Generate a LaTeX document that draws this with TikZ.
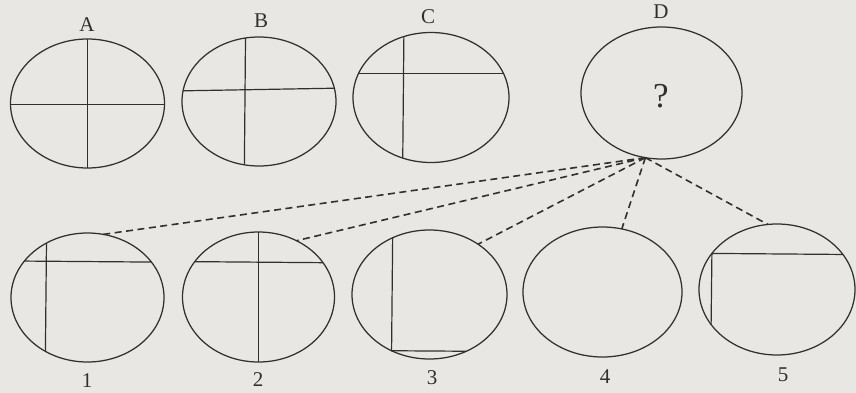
\documentclass[tikz,border=0pt]{standalone}
\usepackage{fontspec}
\setmainfont{Liberation Serif}
\usetikzlibrary{shapes.geometric}
\definecolor{paper}{RGB}{233,231,228}
\definecolor{ink}{RGB}{50,48,47}
\tikzset{
  oval/.style={ellipse, draw=ink, line width=1.25pt, inner sep=0pt, outer sep=0pt},
  chord/.style={draw=ink, line width=1.2pt},
  link/.style={draw=ink, line width=1.6pt, dash pattern=on 7pt off 4.5pt},
  lbl/.style={text=ink, font=\fontsize{21}{21}\selectfont, inner sep=0pt},
  qmark/.style={text=ink, font=\fontsize{35}{35}\selectfont, inner sep=0pt}
}
\begin{document}
\begin{tikzpicture}[x=1pt,y=-1pt]
\fill[paper] (0,0) rectangle (856,393);
\useasboundingbox (0,0) rectangle (856,393);

% top row
\node[oval, minimum width=154pt, minimum height=129pt] (eA) at (87.5,103.5) {};
\node[oval, minimum width=154pt, minimum height=129pt] (eB) at (259,101.5) {};
\node[oval, minimum width=156pt, minimum height=130pt] (eC) at (431,97.5) {};
\node[oval, minimum width=161pt, minimum height=132pt] (eD) at (661.5,93) {};

\node[lbl] (lA) at (87,25) {A};
\node[lbl] (lB) at (261,21) {B};
\node[lbl] (lC) at (428,17) {C};
\node[lbl] (lD) at (661,12) {D};
\node[qmark] (q) at (661,96) {?};

\draw[chord] (eA.north) -- (eA.south);
\draw[chord] (eA.181) -- (eA.-1);
\draw[chord] (eB.102.5) -- (eB.257.5);
\draw[chord] (eB.172.1) -- (eB.10.2);
\draw[chord] (eC.114.8) -- (eC.245.2);
\draw[chord] (eC.162.9) -- (eC.18.7);

% bottom row
\node[oval, minimum width=153pt, minimum height=129pt] (e1) at (87.5,297.5) {};
\node[oval, minimum width=152pt, minimum height=130pt] (e2) at (258.5,297) {};
\node[oval, minimum width=155pt, minimum height=129pt] (e3) at (429.5,294.5) {};
\node[oval, minimum width=159pt, minimum height=130pt] (e4) at (602.5,292) {};
\node[oval, minimum width=156pt, minimum height=131pt] (e5) at (777,289.5) {};

\node[lbl] (n1) at (87,381) {1};
\node[lbl] (n2) at (258,380) {2};
\node[lbl] (n3) at (432,378) {3};
\node[lbl] (n4) at (605,377) {4};
\node[lbl] (n5) at (783,375) {5};

\draw[chord] (e1.127.4) -- (e1.232.6);
\draw[chord] (e1.150.9) -- (e1.29.1);
\draw[chord] (e2.north) -- (e2.south);
\draw[chord] (e2.151.3) -- (e2.28.7);
\draw[chord] (e3.123.6) -- (e3.236.4) -- (e3.303.6);
\draw[chord] (e5.28.5) -- (e5.151.5) -- (e5.208.5);

% dashed connectors
\coordinate (hub) at (eD.256);
\draw[link] (hub) -- (e1.76.5);
\draw[link] (hub) -- (e2.56);
\draw[link] (hub) -- (e3.46.7);
\draw[link] (hub) -- (e4.73.9);
\draw[link] (hub) -- (e5.98.7);
\end{tikzpicture}
\end{document}
